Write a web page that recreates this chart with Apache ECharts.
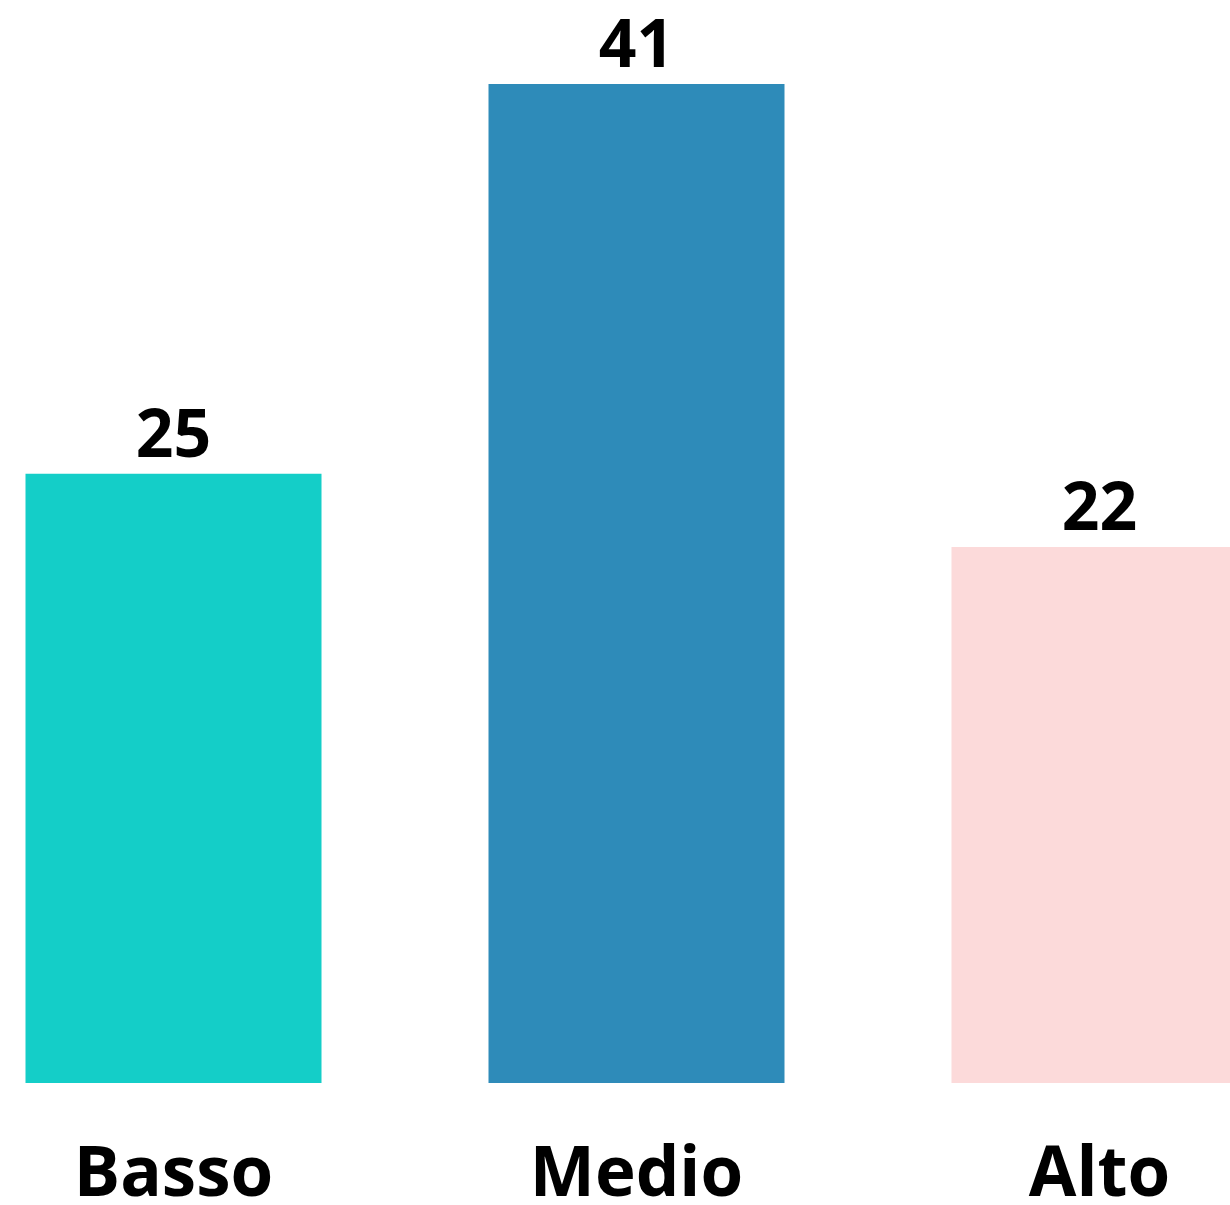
<!DOCTYPE html>
<html>
<head>
<meta charset="utf-8">
<script src="https://cdn.jsdelivr.net/npm/echarts@6/dist/echarts.min.js"></script>
<style>
html, body { margin: 0; padding: 0; background: #fff; overflow: hidden; }
/* l'area del grafico sborda ai lati: la barra Alto esce dal bordo destro */
#chart { margin-left: -58px; width: 1389px; height: 1205px; }
</style>
</head>
<body>
<div id="chart"></div>
<script>
// dati
var categories = ['Basso', 'Medio', 'Alto'];
var values = [25, 41, 22];
var colors = ['#14CEC8', '#2E8BB9', '#FCDADA'];

var chart = echarts.init(document.getElementById('chart'));

var option = {
	animation: false,
	grid: {
		left: 0,
		right: 0,
		top: 84,
		bottom: 122,
		outerBoundsMode: 'none' // niente ridimensionamento automatico per le etichette
	},
	xAxis: {
		type: 'category',
		data: categories,
		axisLine: { show: false },
		axisTick: { show: false },
		axisLabel: {
			margin: 59,
			color: '#000',
			fontFamily: 'Open Sans',
			fontWeight: 'bold',
			fontSize: 69
		}
	},
	yAxis: {
		type: 'value',
		min: 0,
		max: 41,
		show: false
	},
	series: [{
		type: 'bar',
		barWidth: 296,
		data: values.map(function (v, i) {
			return { value: v, itemStyle: { color: colors[i] } };
		}),
		label: {
			show: true,
			position: 'top',
			distance: 3,
			color: '#000',
			fontFamily: 'Open Sans',
			fontWeight: 'bold',
			fontSize: 66
		}
	}]
};
chart.setOption(option);
</script>
</body>
</html>
